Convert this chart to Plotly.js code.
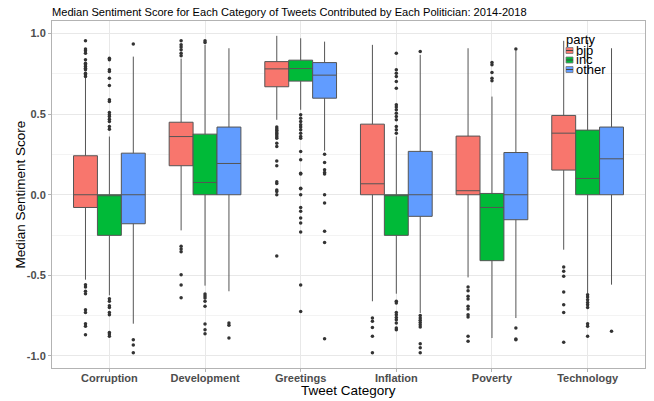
<!DOCTYPE html>
<html>
<head>
<meta charset="utf-8">
<script src="https://cdn.plot.ly/plotly-3.0.1.min.js"></script>
<style>
  html, body { margin: 0; padding: 0; background: #fff; }
  #chart { width: 654px; height: 401px; }
</style>
</head>
<body>
<div id="chart"></div>
<script>
const categories = ['Corruption', 'Development', 'Greetings', 'Inflation', 'Poverty', 'Technology'];
const parties = ['bjp', 'inc', 'other'];
const partyColors = ['#F8766D', '#00BA38', '#619CFF'];

// bjp
const bjpQ1 = [-0.079, 0.180, 0.670, 0.0, 0.0, 0.153];
const bjpMedian = [0.0, 0.361, 0.781, 0.068, 0.025, 0.382];
const bjpQ3 = [0.242, 0.450, 0.826, 0.438, 0.364, 0.492];
const bjpLower = [-0.527, -0.221, 0.465, -0.661, -0.513, -0.341];
const bjpUpper = [0.725, 0.845, 0.986, 0.930, 0.909, 0.955];
const bjpOutliers = [
  [0.955, 0.905, 0.893, 0.878, 0.837, 0.816, 0.806, 0.796, 0.785, 0.775, 0.754, 0.744, 0.734, -0.558, -0.572, -0.599, -0.614, -0.713, -0.730, -0.800, -0.816, -0.868],
  [0.955, 0.930, 0.916, 0.899, 0.878, 0.862, -0.320, -0.337, -0.353, -0.496, -0.560, -0.639],
  [0.42, 0.41, 0.40, 0.39, 0.38, 0.37, 0.36, 0.35, 0.32, 0.30, 0.21, 0.18, 0.08, 0.07, 0.03, 0.02, 0.0, -0.38],
  [-0.765, -0.785, -0.823, -0.878, -0.981],
  [-0.572, -0.595, -0.630, -0.647, -0.692, -0.709, -0.744, -0.758, -0.878, -0.909],
  [-0.448, -0.475, -0.506, -0.603, -0.682, -0.730, -0.916]
];

// inc
const incQ1 = [-0.252, 0.0, 0.705, -0.252, -0.409, 0.0];
const incMedian = [0.0, 0.076, 0.783, 0.0, -0.079, 0.101];
const incQ3 = [0.0, 0.376, 0.835, 0.0, 0.008, 0.401];
const incLower = [-0.624, -0.564, 0.527, -0.614, -0.889, -0.610];
const incUpper = [0.361, 0.930, 0.971, 0.361, 0.609, 0.961];
const incOutliers = [
  [0.847, 0.837, 0.775, 0.764, 0.723, 0.678, 0.589, 0.578, 0.510, 0.496, 0.485, 0.469, 0.454, 0.423, 0.407, -0.645, -0.661, -0.688, -0.699, -0.730, -0.744, -0.854, -0.864, -0.878],
  [0.955, 0.944, -0.616, -0.628, -0.641, -0.661, -0.692, -0.802, -0.837, -0.862],
  [0.496, 0.475, 0.454, 0.434, 0.420, 0.403, 0.382, 0.361, 0.351, 0.268, 0.217, 0.134, 0.128, 0.041, 0.0, 0.037, -0.079, -0.103, -0.144, -0.175, -0.231, -0.560, -0.725],
  [0.878, 0.775, 0.754, 0.734, 0.703, 0.661, 0.558, 0.544, 0.527, 0.506, 0.485, 0.465, 0.423, 0.403, 0.382, -0.661, -0.672, -0.730, -0.744, -0.761, -0.775, -0.796, -0.827, -0.837],
  [0.820, 0.806, 0.758, 0.723, 0.707],
  [-0.620, -0.634, -0.651, -0.668, -0.682, -0.699, -0.800, -0.816, -0.878]
];

// other
const otherQ1 = [-0.180, 0.0, 0.599, -0.134, -0.155, 0.0];
const otherMedian = [0.0, 0.194, 0.742, 0.0, 0.0, 0.223];
const otherQ3 = [0.258, 0.420, 0.820, 0.269, 0.262, 0.420];
const otherLower = [-0.800, -0.599, 0.273, -0.734, -0.765, -0.558];
const otherUpper = [0.857, 0.909, 0.950, 0.868, 0.895, 0.909];
const otherOutliers = [
  [0.936, -0.899, -0.932, -0.981],
  [-0.796, -0.810, -0.889],
  [0.252, 0.200, 0.155, 0.138, 0.128, 0.0, -0.052, -0.227, -0.296, -0.893],
  [0.889, -0.750, -0.765, -0.779, -0.792, -0.806, -0.820, -0.924, -0.950, -0.981],
  [0.905, -0.827, -0.895, -0.899],
  [-0.847]
];

const yTickVals = [-1.0, -0.5, 0.0, 0.5, 1.0];
const yTickText = ['-1.0', '-0.5', '0.0', '0.5', '1.0'];
const legendTitle = 'party';

const stats = [
  {q1: bjpQ1, median: bjpMedian, q3: bjpQ3, lo: bjpLower, hi: bjpUpper, out: bjpOutliers},
  {q1: incQ1, median: incMedian, q3: incQ3, lo: incLower, hi: incUpper, out: incOutliers},
  {q1: otherQ1, median: otherMedian, q3: otherQ3, lo: otherLower, hi: otherUpper, out: otherOutliers}
];

const dodge = 0.75;
const boxW = dodge / parties.length;
const catPos = categories.map((c, i) => i + 1);

const traces = [];
parties.forEach((p, k) => {
  const off = -dodge / 2 + boxW * (k + 0.5);
  const s = stats[k];
  traces.push({
    type: 'box',
    name: p,
    x: catPos.map(v => v + off),
    q1: s.q1, median: s.median, q3: s.q3,
    lowerfence: s.lo, upperfence: s.hi,
    width: boxW,
    whiskerwidth: 0,
    boxpoints: false,
    fillcolor: partyColors[k],
    line: {color: '#555555', width: 1},
    showlegend: false,
    hoverinfo: 'skip'
  });
});
parties.forEach((p, k) => {
  const off = -dodge / 2 + boxW * (k + 0.5);
  const xs = [], ys = [];
  stats[k].out.forEach((arr, i) => {
    arr.forEach(v => { xs.push(catPos[i] + off); ys.push(v); });
  });
  traces.push({
    type: 'scatter', mode: 'markers',
    x: xs, y: ys,
    marker: {color: '#333333', size: 3.5},
    showlegend: false, hoverinfo: 'skip'
  });
});

// Compact legend (ggplot style, tightly stacked) built from the party arrays
const plotL = 52, plotR = 645, plotT = 21, plotB = 368;
const px2x = px => (px - plotL) / (plotR - plotL);
const px2y = py => (plotB - py) / (plotB - plotT);
const annotations = [
  {text: 'Median Sentiment Score', xref: 'paper', yref: 'paper', x: px2x(20), y: 0.5,
   xanchor: 'center', yanchor: 'middle', textangle: -90, showarrow: false,
   font: {size: 13.5, color: '#000'}},
  {text: 'Tweet Category', xref: 'paper', yref: 'paper', x: 0.5, y: px2y(390),
   xanchor: 'center', yanchor: 'middle', showarrow: false,
   font: {size: 13.5, color: '#000'}},
  {text: legendTitle, xref: 'paper', yref: 'paper', x: px2x(564), y: px2y(40),
   xanchor: 'left', yanchor: 'middle', showarrow: false, font: {size: 13, color: '#000'}}
];
const shapes = [];
const legendRowY = [50.5, 60, 69.5];
parties.forEach((p, k) => {
  const cy = legendRowY[k];
  annotations.push({text: p, xref: 'paper', yref: 'paper', x: px2x(574), y: px2y(cy),
    xanchor: 'left', yanchor: 'middle', showarrow: false, font: {size: 13, color: '#000'}});
  shapes.push({type: 'rect', xref: 'paper', yref: 'paper',
    x0: px2x(566), x1: px2x(573), y0: px2y(cy - 3), y1: px2y(cy + 3),
    fillcolor: partyColors[k], line: {color: '#777777', width: 0.8}});
  shapes.push({type: 'line', xref: 'paper', yref: 'paper',
    x0: px2x(566), x1: px2x(573), y0: px2y(cy), y1: px2y(cy),
    line: {color: '#444444', width: 1}});
});

const layout = {
  width: 654, height: 401,
  margin: {l: plotL, r: 654 - plotR, t: plotT, b: 401 - plotB, pad: 0},
  paper_bgcolor: '#ffffff', plot_bgcolor: '#ffffff',
  font: {family: 'Liberation Sans, Arial, sans-serif', color: '#000'},
  title: {
    text: 'Median Sentiment Score for Each Category of Tweets Contributed by Each Politician: 2014-2018',
    x: 52 / 654, xanchor: 'left', xref: 'container',
    y: 1 - 12 / 401, yanchor: 'middle', yref: 'container',
    font: {size: 11.1, color: '#000'}
  },
  showlegend: false,
  annotations: annotations,
  shapes: shapes,
  xaxis: {
    range: [0.4, 6.6],
    tickmode: 'array', tickvals: catPos, ticktext: categories,
    showgrid: true, gridcolor: '#E8E8E8', gridwidth: 1,
    zeroline: false,
    showline: true, mirror: true, linecolor: '#B3B3B3', linewidth: 1,
    ticks: 'outside', ticklen: 3, tickcolor: '#B3B3B3',
    ticklabelstandoff: -3,
    tickfont: {size: 11, color: '#4D4D4D', weight: 'bold'},
    automargin: false
  },
  yaxis: {
    range: [-1.075, 1.078],
    tickmode: 'array', tickvals: yTickVals, ticktext: yTickText,
    showgrid: true, gridcolor: '#E8E8E8', gridwidth: 1,
    minor: {tickmode: 'array', tickvals: [-0.75, -0.25, 0.25, 0.75], showgrid: true, gridcolor: '#F3F3F3', gridwidth: 1, ticks: ''},
    zeroline: false,
    showline: true, mirror: true, linecolor: '#B3B3B3', linewidth: 1,
    ticks: 'outside', ticklen: 3, tickcolor: '#B3B3B3',
    tickfont: {size: 11, color: '#4D4D4D', weight: 'bold'},
    automargin: false
  }
};

Plotly.newPlot('chart', traces, layout, {staticPlot: true, displayModeBar: false});
</script>
</body>
</html>
